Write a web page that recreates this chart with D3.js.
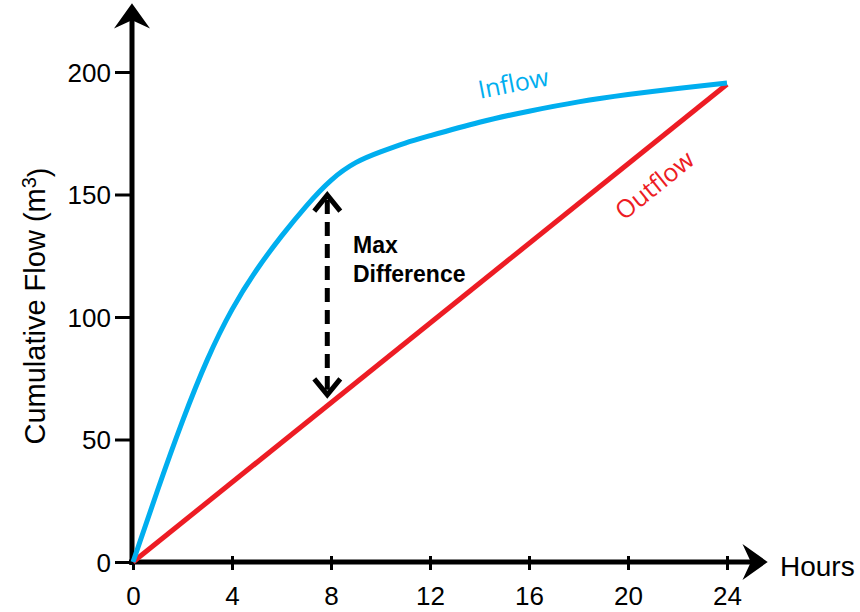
<!DOCTYPE html>
<html>
<head>
<meta charset="utf-8">
<script src="https://cdn.jsdelivr.net/npm/d3@7"></script>
<style>
  body { margin: 0; background: #fff; }
  svg text { font-family: "Liberation Sans", Arial, sans-serif; }
</style>
</head>
<body>
<div id="chart"></div>
<script>
// Chart data
const hours = [0, 1, 2, 3, 4, 5, 6, 7, 8, 9, 10, 11, 12, 14, 16, 18, 20, 22, 24];
const inflow = [0, 29.5, 57.5, 82.5, 103, 119.3, 133, 145.3, 155.8, 163, 167.4, 171, 174, 179.5, 184, 187.8, 190.8, 193.3, 195.5];
const outflowHours = [0, 24];
const outflow = [0, 195];
const xTicks = [0, 4, 8, 12, 16, 20, 24];
const yTicks = [0, 50, 100, 150, 200];
// Max difference annotation (hour, top value, bottom value)
const maxDiffHour = 7.85;
const maxDiffRange = [151, 67];

const width = 860;
const height = 612;

const svg = d3.select("#chart").append("svg")
    .attr("width", width)
    .attr("height", height);

const x = d3.scaleLinear().domain([0, 24]).range([133, 727]);
const y = d3.scaleLinear().domain([0, 200]).range([562, 72]);

const blue = "#00aeef";
const red = "#ed1c24";

// Y axis ticks + labels
const yAxis = svg.append("g")
    .attr("transform", `translate(${x(0) - 1},0)`)
    .call(d3.axisLeft(y).tickValues(yTicks).tickSize(17).tickPadding(4));
yAxis.select(".domain").remove();
yAxis.selectAll(".tick line").attr("stroke", "#000").attr("stroke-width", 3);
yAxis.selectAll(".tick text")
    .attr("fill", "#000")
    .style("font-size", "26px")
    .attr("dy", "0.36em");

// X axis ticks + labels
const xAxis = svg.append("g")
    .attr("transform", `translate(0,${y(0)})`)
    .call(d3.axisBottom(x).tickValues(xTicks).tickSize(8).tickPadding(17));
xAxis.select(".domain").remove();
xAxis.selectAll(".tick line").attr("y1", -6).attr("stroke", "#000").attr("stroke-width", 3);
xAxis.selectAll(".tick text")
    .attr("fill", "#000")
    .style("font-size", "26px");

// Axis lines with arrowheads
const ax0 = x(0) - 1, ay0 = y(0);
svg.append("line")
    .attr("x1", ax0).attr("y1", ay0 + 3)
    .attr("x2", ax0).attr("y2", 16)
    .attr("stroke", "#000").attr("stroke-width", 5);
svg.append("path")
    .attr("d", `M${ax0},5 L${ax0 + 15},26 L${ax0},19 L${ax0 - 15},26 Z`)
    .attr("fill", "#000").attr("stroke", "#000").attr("stroke-width", 2)
    .attr("stroke-linejoin", "miter");

svg.append("line")
    .attr("x1", ax0 - 3).attr("y1", ay0)
    .attr("x2", 755).attr("y2", ay0)
    .attr("stroke", "#000").attr("stroke-width", 5);
svg.append("path")
    .attr("d", `M766,${ay0} L745,${ay0 - 15} L752,${ay0} L745,${ay0 + 15} Z`)
    .attr("fill", "#000").attr("stroke", "#000").attr("stroke-width", 2);

// Axis titles
svg.append("text")
    .attr("x", 780).attr("y", ay0 + 14)
    .style("font-size", "28px")
    .text("Hours");

const yTitle = svg.append("text")
    .attr("transform", `translate(45,306) rotate(-90)`)
    .attr("text-anchor", "middle")
    .style("font-size", "29px");
yTitle.append("tspan").text("Cumulative Flow (m");
yTitle.append("tspan").attr("dy", "-0.45em").style("font-size", "20px").text("3");
yTitle.append("tspan").attr("dy", "0.45em").text(")");

// Lines
const inflowLine = d3.line()
    .x((d, i) => x(hours[i]))
    .y(d => y(d))
    .curve(d3.curveNatural);

svg.append("path")
    .datum(outflow)
    .attr("fill", "none")
    .attr("stroke", red)
    .attr("stroke-width", 5)
    .attr("d", d3.line().x((d, i) => x(outflowHours[i])).y(d => y(d)));

svg.append("path")
    .datum(inflow)
    .attr("fill", "none")
    .attr("stroke", blue)
    .attr("stroke-width", 5)
    .attr("d", inflowLine);

// Line labels
svg.append("text")
    .attr("transform", `translate(515,92) rotate(-11)`)
    .attr("text-anchor", "middle")
    .attr("fill", blue)
    .style("font-family", "'Open Sans', sans-serif")
    .style("font-size", "25px")
    .text("Inflow");

svg.append("text")
    .attr("transform", `translate(660,192) rotate(-39)`)
    .attr("text-anchor", "middle")
    .attr("fill", red)
    .style("font-family", "'Open Sans', sans-serif")
    .style("font-size", "25px")
    .text("Outflow");

// Max difference arrow
const mx = x(maxDiffHour);
const yTop = y(maxDiffRange[0]);
const yBot = y(maxDiffRange[1]);
svg.append("line")
    .attr("x1", mx).attr("y1", yTop + 8)
    .attr("x2", mx).attr("y2", yBot - 8)
    .attr("stroke", "#000").attr("stroke-width", 5)
    .attr("stroke-dasharray", "14,8");
svg.append("path")
    .attr("d", `M${mx - 13},${yTop + 19} L${mx},${yTop + 3} L${mx + 13},${yTop + 19}`)
    .attr("fill", "none").attr("stroke", "#000").attr("stroke-width", 5);
svg.append("path")
    .attr("d", `M${mx - 13},${yBot - 19} L${mx},${yBot - 3} L${mx + 13},${yBot - 19}`)
    .attr("fill", "none").attr("stroke", "#000").attr("stroke-width", 5);

svg.append("text")
    .attr("x", 353).attr("y", 253)
    .style("font-size", "23px").style("font-weight", "bold")
    .text("Max");
svg.append("text")
    .attr("x", 353).attr("y", 282)
    .style("font-size", "23px").style("font-weight", "bold")
    .text("Difference");
</script>
</body>
</html>
